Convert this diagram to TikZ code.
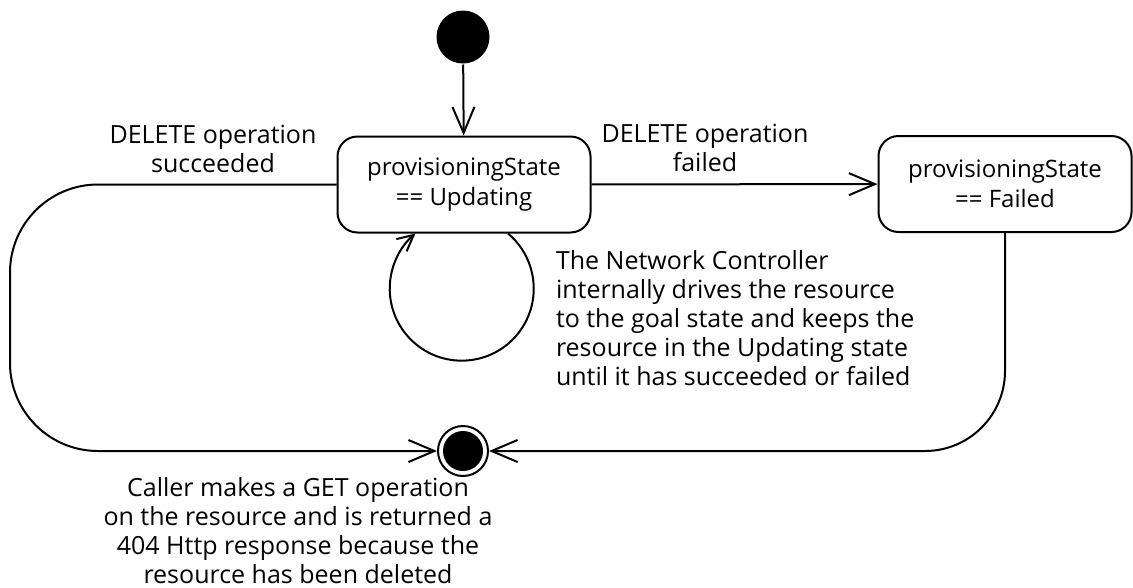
\documentclass[tikz,border=0pt]{standalone}
\usepackage{fontspec}
\setmainfont{Open Sans}
\usetikzlibrary{arrows.meta}

\begin{document}
\begin{tikzpicture}[x=1pt,y=-1pt,line width=2pt,
        font=\fontsize{25}{29}\selectfont,
        state/.style={draw,rounded corners=20pt,minimum width=253pt,minimum height=96pt,align=center,inner sep=0pt,font=\fontsize{24}{30}\selectfont},
        startdot/.style={circle,fill=black,minimum size=53pt,inner sep=0pt},
        enddot/.style={circle,draw,minimum size=50pt,inner sep=0pt},
        trans/.style={-{Straight Barb[length=26pt,width=22pt]}},
        smalltrans/.style={-{Straight Barb[length=16pt,width=16pt]}},
        lbl/.style={align=center,inner sep=0pt}]
            \useasboundingbox (0,0) rectangle (1133,587);

            \node[startdot] (init) at (463, 37) {};
            \node[state] (upd) at (464, 184.5) {provisioningState\\== Updating};
            \node[state] (failed) at (1005, 184) {provisioningState\\== Failed};
            \node[enddot] (final) at (463, 451) {};
            \fill (final.center) circle (20pt);
            \coordinate (lbend) at (10, 451);

            \node[lbl,anchor=north] (succlbl) at (213, 124) {DELETE operation\\succeeded};
            \node[lbl,anchor=north] (faillbl) at (705, 123) {DELETE operation\\failed};
            \node[lbl,align=left,anchor=north west] (note) at (555, 249) {The Network Controller\\internally drives the resource\\to the goal state and keeps the\\resource in the Updating state\\until it has succeeded or failed};
            \node[lbl,anchor=north] (getlbl) at (298, 476) {Caller makes a GET operation\\on the resource and is returned a\\404 Http response because the\\resource has been deleted};

            \draw[trans] (init) -- (upd);
            \draw[trans] (upd) -- (failed);
            \draw[trans,rounded corners=88pt] (upd.west) -| (lbend) -- (final.west);
            \draw[trans,rounded corners=80pt] (failed.south) |- (final.east);
            \draw[smalltrans] ([xshift=44pt]upd.south) arc (50:-230:72pt);
        \end{tikzpicture}
\end{document}
